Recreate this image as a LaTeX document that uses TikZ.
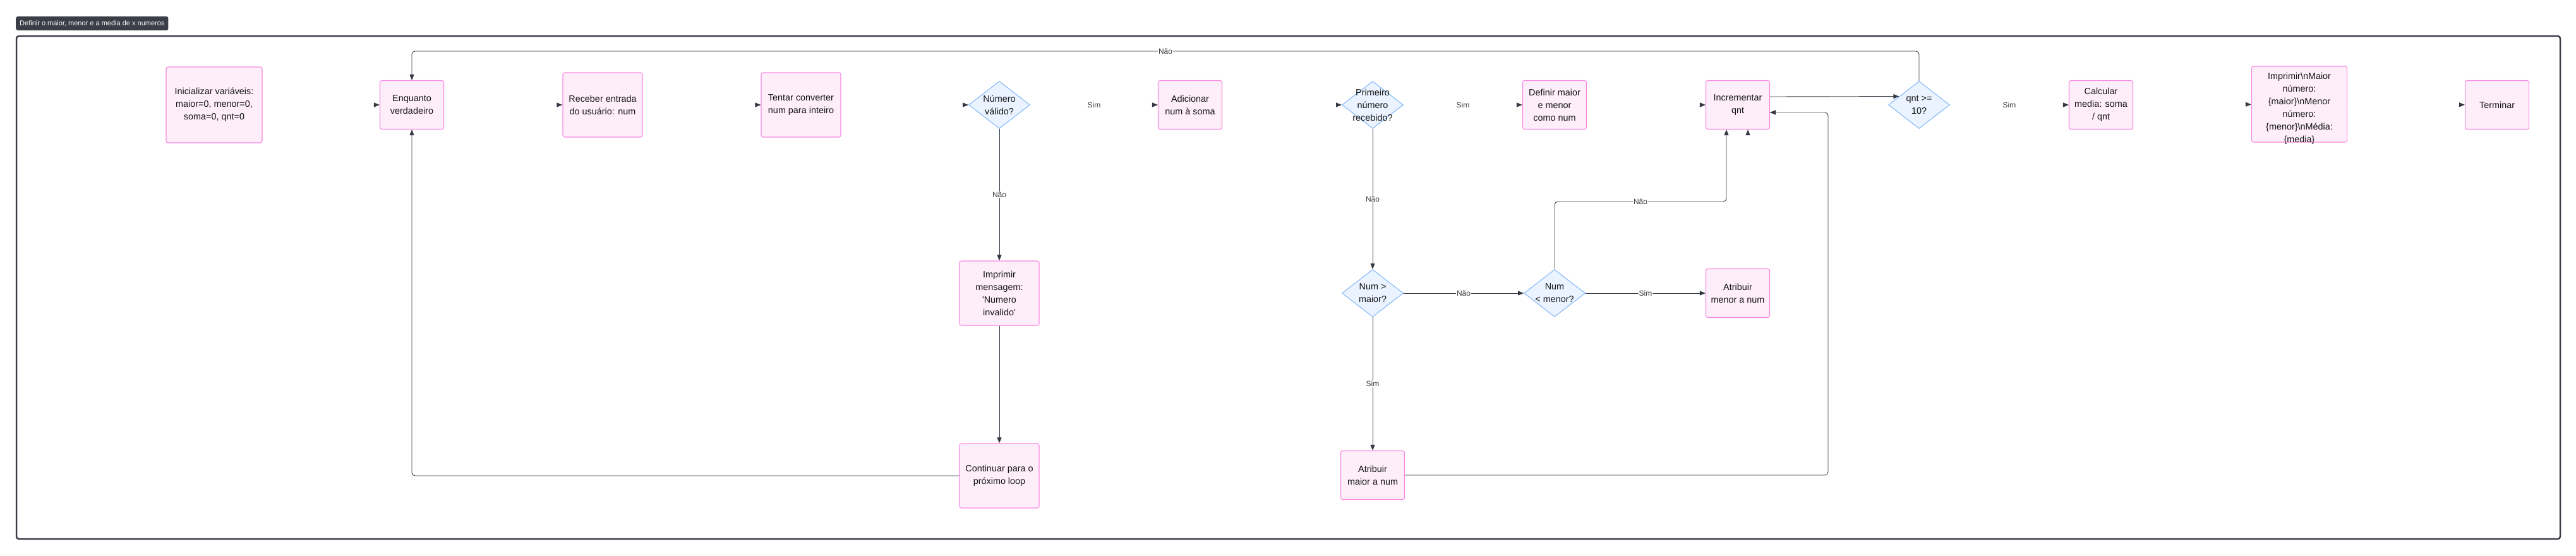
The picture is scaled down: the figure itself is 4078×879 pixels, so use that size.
\documentclass[tikz,border=0pt]{standalone}
\usepackage{fontspec}
\setmainfont{Liberation Sans}
\usetikzlibrary{shapes.geometric,arrows.meta}
\definecolor{boxfill}{RGB}{253,238,249}
\definecolor{boxline}{RGB}{250,135,225}
\definecolor{decfill}{RGB}{234,243,255}
\definecolor{decline}{RGB}{127,181,245}
\definecolor{edgegray}{RGB}{51,56,66}
\definecolor{edgelight}{RGB}{200,200,204}
\definecolor{framegray}{RGB}{58,62,70}
\definecolor{labelgray}{RGB}{60,60,66}
\definecolor{nodetext}{RGB}{20,20,20}
\begin{document}
\begin{tikzpicture}[x=1pt, y=-1pt,
      every node/.style = {align=center, text=nodetext,
        font=\fontsize{14.4}{20}\selectfont},
      process/.style = {rectangle, rounded corners=3pt, draw=boxline,
        line width=1.1pt, fill=boxfill, inner sep=0pt,
        minimum width=101pt, minimum height=77pt},
      bigbox/.style = {process, minimum width=126pt, minimum height=102pt},
      decision/.style = {diamond, draw=decline, line width=1pt,
        fill=decfill, inner sep=0pt, minimum width=97pt, minimum height=75pt},
      flow/.style = {draw=edgegray, line width=0.9pt, rounded corners=5pt,
        -{Triangle[length=9pt, width=7pt, color=edgegray]}},
      ghost/.style = {flow, draw=white},
      elabel/.style = {fill=white, inner sep=1pt, text=labelgray,
        font=\fontsize{12}{14}\selectfont},
      frame/.style = {draw=framegray, line width=2.5pt, rounded corners=4pt},
      badge/.style = {fill=framegray, text=white, rounded corners=3pt,
        inner xsep=6pt, inner ysep=0pt, minimum height=22pt,
        font=\fontsize{11}{13}\selectfont}]
    \useasboundingbox (0,0) rectangle (4078,879);
    \node[badge, anchor=west] (title) at (25,37) {Definir o maior, menor e a media de x numeros};
    \draw[frame] (26,57) rectangle (4053,853);

    \node[process, minimum width=152pt, minimum height=120pt] (init) at (339,166)
      {Inicializar variáveis:\\maior=0, menor=0,\\soma=0, qnt=0};
    \node[process] (enq) at (652,166) {Enquanto\\verdadeiro};
    \node[bigbox] (rec) at (954,166) {Receber entrada\\do usuário: num};
    \node[bigbox] (tent) at (1268,166) {Tentar converter\\num para inteiro};
    \node[decision, label={center:{Número\\válido?}}] (valid) at (1582,166) {};
    \node[process] (adic) at (1884,166) {Adicionar\\num à soma};
    \node[decision, label={center:{Primeiro\\número\\recebido?}}] (prim) at (2173,166) {};
    \node[process] (defi) at (2461,166) {Definir maior\\e menor\\como num};
    \node[process] (incr) at (2751,166) {Incrementar\\qnt};
    \node[decision, label={center:{qnt >=\\10?}}] (qnt) at (3038,166) {};
    \node[process] (calc) at (3326,166) {Calcular\\media: soma\\/ qnt};
    \node[process, minimum width=151pt, minimum height=120pt,
      label={[yshift=-7pt]center:{Imprimir\textbackslash nMaior\\número:\\\{maior\}\textbackslash nMenor\\número:\\\{menor\}\textbackslash nMédia:\\\{media\}}}]
      (impr) at (3640,165) {};
    \node[process] (term) at (3953,166) {Terminar};

    \node[bigbox] (impm) at (1582,464)
      {Imprimir\\mensagem:\\\textquotesingle Numero\\invalido\textquotesingle};
    \node[bigbox] (cont) at (1582,753) {Continuar para o\\próximo loop};
    \node[decision, label={center:{Num >\\maior?}}] (maior) at (2173,464) {};
    \node[decision, label={center:{Num\\< menor?}}] (menor) at (2461,464) {};
    \node[process] (amenor) at (2751,464) {Atribuir\\menor a num};
    \node[process] (amaior) at (2173,752) {Atribuir\\maior a num};

    \coordinate (loopy) at (0,81);
    \coordinate (skip) at (0,319);
    \coordinate (bend) at (2894,178);

    \draw[ghost] (init) -- (enq);
    \draw[ghost] (enq) -- (rec);
    \draw[ghost] (rec) -- (tent);
    \draw[ghost] (tent) -- (valid);
    \draw[ghost] (valid) -- node[elabel] {Sim} (adic);
    \draw[ghost] (adic) -- (prim);
    \draw[ghost] (prim) -- node[elabel] {Sim} (defi);
    \draw[ghost] (defi) -- (incr);
    \draw[ghost] ([xshift=16pt]amenor.north) -- ([xshift=16pt]incr.south);
    \draw[ghost] (qnt) -- node[elabel] {Sim} (calc);
    \draw[ghost] (calc) -- (impr);
    \draw[ghost] (impr) -- (term);

    \draw[flow] (valid.south) -- node[elabel] {Não} (impm.north);
    \draw[flow] (impm) -- (cont);
    \draw[flow] (cont.west) -| (enq.south);
    \draw[flow] (qnt.north) |- node[elabel, pos=0.75] {Não} (enq.north |- loopy) -- (enq.north);
    \draw[flow] (prim.south) -- node[elabel] {Não} (maior.north);
    \draw[flow] (maior) -- node[elabel] {Não} (menor);
    \draw[flow] (menor) -- node[elabel] {Sim} (amenor);
    \draw[flow] (maior.south) -- node[elabel] {Sim} (amaior.north);
    \draw[flow] (menor.north) -- (menor.north |- skip) -| node[elabel, pos=0.25] {Não} ([xshift=-18pt]incr.south);
    \draw[flow] (amaior.east) -| (bend) -- (incr.east |- bend);
    \draw[flow, draw=edgelight] ([xshift=-8pt]bend) -- (incr.east |- bend);
    \draw[flow] ([yshift=13pt]incr.east) -- (qnt.157.6);
\end{tikzpicture}
\end{document}
